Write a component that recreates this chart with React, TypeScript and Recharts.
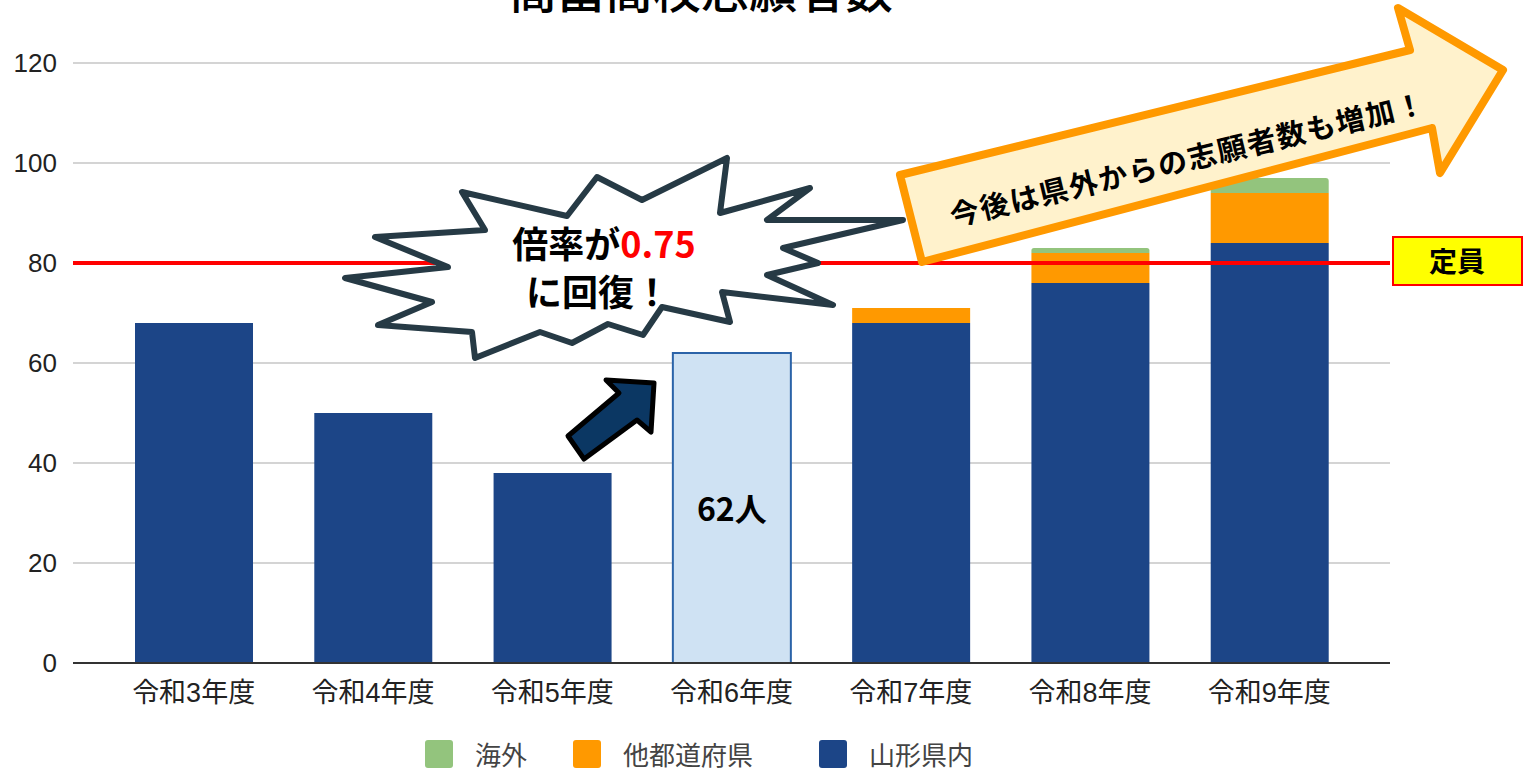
import { BarChart, Bar, XAxis, YAxis, CartesianGrid, ReferenceLine, Legend, LabelList, Cell } from "recharts"

const categories = ["令和3年度", "令和4年度", "令和5年度", "令和6年度", "令和7年度", "令和8年度", "令和9年度"]
const inPrefecture = [68, 50, 38, 62, 68, 76, 84]
const otherPrefectures = [0, 0, 0, 0, 3, 6, 10]
const overseas = [0, 0, 0, 0, 0, 1, 3]
const capacity = 80
const yTicks = [0, 20, 40, 60, 80, 100, 120]
const highlightIndex = 3

const COLORS = {
  inPrefecture: "#1c4587",
  otherPrefectures: "#ff9900",
  overseas: "#93c47d",
  highlight: "#cfe2f3",
  highlightStroke: "#2b63a8",
}

const legendItems = [
  { name: "海外", color: COLORS.overseas },
  { name: "他都道府県", color: COLORS.otherPrefectures },
  { name: "山形県内", color: COLORS.inPrefecture },
]

const data = categories.map((name, i) => ({
  name,
  inPrefecture: inPrefecture[i],
  otherPrefectures: otherPrefectures[i],
  overseas: overseas[i],
}))

const LATIN = "'Liberation Sans', 'Noto Sans CJK JP', sans-serif"
const CJK = "'Noto Sans CJK JP', sans-serif"

function CapacityLabel(props: any) {
  const { viewBox } = props
  if (!viewBox) return null
  const x = viewBox.x + viewBox.width + 3
  const y = viewBox.y
  return (
    <g>
      <rect x={x} y={y - 26} width={129} height={48} fill="#ffff00" stroke="#ff0000" strokeWidth={2} />
      <text x={x + 64} y={y + 9} textAnchor="middle" fontFamily={CJK} fontWeight={700} fontSize={28} fill="#000">
        定員
      </text>
    </g>
  )
}

function HighlightLabel(props: any) {
  const { x, y, width, height, index } = props
  if (index !== highlightIndex) return null
  return (
    <text x={x + width / 2} y={y + height / 2 + 13} textAnchor="middle" fontFamily={CJK} fontWeight={700} fontSize={32} fill="#000">
      {`${inPrefecture[index]}人`}
    </text>
  )
}

function LegendContent() {
  return (
    <div
      style={{
        display: "flex",
        alignItems: "center",
        height: 42,
        lineHeight: "42px",
        paddingLeft: 425,
        fontFamily: CJK,
        fontSize: 26,
        color: "#444",
      }}
    >
      {legendItems.map((item, i) => (
        <div key={item.name} style={{ display: "flex", alignItems: "center", marginRight: i === 0 ? 46 : 66 }}>
          <span style={{ width: 28, height: 28, background: item.color, borderRadius: 3, display: "inline-block", marginRight: 22 }} />
          <span>{item.name}</span>
        </div>
      ))}
    </div>
  )
}

const starPoints = [
  [462, 192], [567, 216], [597, 177], [642, 200], [727, 158], [720, 213], [810, 188], [767, 220],
  [903, 220], [783, 248], [818, 263], [767, 275], [833, 305], [722, 292], [730, 322], [662, 307],
  [643, 335], [608, 324], [572, 343], [540, 332], [475, 358], [472, 332], [378, 325], [432, 302],
  [345, 278], [448, 267], [375, 237], [485, 230],
]

const bigArrow = [
  [900, 175], [1410, 50], [1398, 8], [1503, 70], [1440, 173], [1432, 128], [922, 262],
]

const smallArrow = [
  [654, 383], [606, 380], [619, 393], [568, 436], [584, 459], [637, 420], [651, 432],
]

const pts = (p: number[][]) => p.map((q) => q.join(",")).join(" ")

function Annotations() {
  return (
    <svg width={1525} height={775} style={{ position: "absolute", left: 0, top: 0, pointerEvents: "none" }}>
      <text x={701} y={8} textAnchor="middle" fontFamily={CJK} fontWeight={500} fontSize={48} fill="#000">
        高畠高校志願者数
      </text>
      <polygon points={pts(starPoints)} fill="#fff" stroke="#263a45" strokeWidth={6} strokeLinejoin="round" />
      <text x={604} y={258} textAnchor="middle" fontFamily={CJK} fontWeight={700} fontSize={36} fill="#000">
        倍率が<tspan fill="#ff0000">0.75</tspan>
      </text>
      <text x={598} y={306} textAnchor="middle" fontFamily={CJK} fontWeight={700} fontSize={36} fill="#000">
        に回復！
      </text>
      <polygon points={pts(smallArrow)} fill="#0b3763" stroke="#000" strokeWidth={5} strokeLinejoin="round" />
      <polygon points={pts(bigArrow)} fill="#fff2cc" stroke="#ff9900" strokeWidth={8} strokeLinejoin="round" />
      <text
        x={1188}
        y={170}
        textAnchor="middle"
        fontFamily={CJK}
        fontWeight={700}
        fontSize={29}
        letterSpacing={1.5}
        fill="#000"
        transform="rotate(-13.5 1188 160)"
      >
        今後は県外からの志願者数も増加！
      </text>
    </svg>
  )
}

export default function App() {
  return (
    <div style={{ position: "absolute", left: 0, top: 0, width: 1525, height: 775, background: "#fff", overflow: "hidden" }}>
      <BarChart width={1525} height={775} data={data} margin={{ top: 63, right: 135, left: 0, bottom: 0 }} barSize={118}>
        <CartesianGrid vertical={false} stroke="#d4d4d4" strokeWidth={2} />
        <XAxis
          dataKey="name"
          padding={{ left: 31, right: 31 }}
          tickLine={false}
          axisLine={{ stroke: "#333", strokeWidth: 2 }}
          tickMargin={14}
          height={70}
          tick={{ fontSize: 27, fill: "#222", fontFamily: LATIN }}
        />
        <YAxis
          domain={[0, 120]}
          ticks={yTicks}
          width={73}
          axisLine={false}
          tickLine={false}
          tickMargin={10}
          tick={{ fontSize: 26, fill: "#222", fontFamily: LATIN }}
        />
        <Legend verticalAlign="bottom" height={42} content={<LegendContent />} />
        <Bar dataKey="inPrefecture" name="山形県内" stackId="a" fill={COLORS.inPrefecture} isAnimationActive={false}>
          {data.map((d, i) => (
            <Cell
              key={d.name}
              fill={i === highlightIndex ? COLORS.highlight : COLORS.inPrefecture}
              stroke={i === highlightIndex ? COLORS.highlightStroke : "none"}
              strokeWidth={i === highlightIndex ? 2 : 0}
            />
          ))}
          <LabelList dataKey="inPrefecture" content={<HighlightLabel />} />
        </Bar>
        <Bar dataKey="otherPrefectures" name="他都道府県" stackId="a" fill={COLORS.otherPrefectures} isAnimationActive={false} />
        <Bar dataKey="overseas" name="海外" stackId="a" fill={COLORS.overseas} radius={[3, 3, 0, 0]} isAnimationActive={false} />
        <ReferenceLine y={capacity} stroke="#ff0000" strokeWidth={4} label={<CapacityLabel />} />
      </BarChart>
      <Annotations />
    </div>
  )
}
